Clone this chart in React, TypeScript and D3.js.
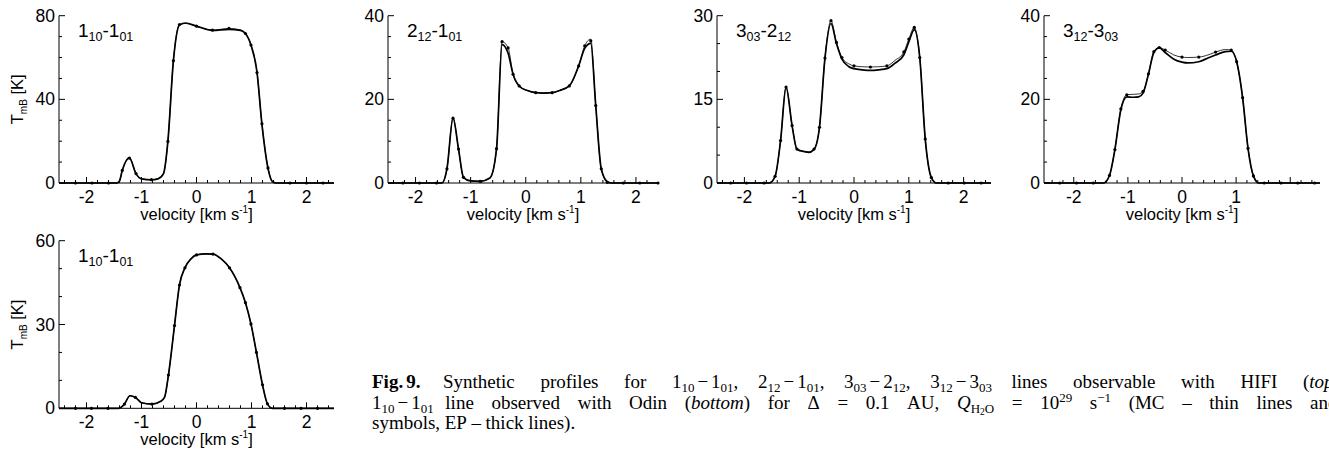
import React, { useLayoutEffect, useRef, useState } from "react";
import * as d3 from "d3";

// velocity [km/s] and T_mB [K].
// xxV: velocity grid of the curves, xxEp: thick line (EP), xxMc: thin line (MC),
// xxDotV / xxDotT: the MC symbols

// top row, HIFI 1_10-1_01
const aV = [-2.5, -1.6, -1.45, -1.4, -1.35, -1.22, -1.1, -1.0, -0.82, -0.7, -0.6, -0.52, -0.42, -0.31, -0.2, 0, 0.29, 0.59, 0.8, 0.89, 0.99, 1.1, 1.19, 1.3, 1.38, 1.45, 1.7, 2.5];
const aEp = [0, 0, 0, 1, 6, 12, 4.5, 2, 1.5, 2, 4.5, 20, 58.5, 75.5, 76.5, 75, 73, 73.5, 73, 71.5, 66, 53, 28, 7, 0.7, 0, 0, 0];
const aMc = [0, 0, 0, 1, 6, 11.9, 4.5, 2, 1.6, 2, 4.5, 19.9, 58.5, 75.8, 76.3, 75, 73.1, 73.9, 73.2, 71.5, 66, 52.8, 28.3, 7.2, 0.7, 0, 0, 0];
const aDotV = [-2.2, -1.9, -1.6, -1.35, -1.22, -1.1, -0.82, -0.52, -0.42, -0.31, 0, 0.29, 0.59, 0.89, 0.99, 1.1, 1.19, 1.3, 1.7, 2.0, 2.3];
const aDotT = [0, 0, 0, 6.0, 11.9, 4.5, 1.6, 19.9, 58.5, 75.8, 75.0, 73.1, 73.9, 71.5, 66, 52.8, 28.3, 7.2, 0, 0, 0];

// 2_12-1_01
const bV = [-2.5, -1.52, -1.43, -1.32, -1.22, -1.13, -1.0, -0.83, -0.65, -0.53, -0.43, -0.32, -0.23, -0.12, 0.03, 0.18, 0.33, 0.48, 0.63, 0.79, 0.96, 1.07, 1.18, 1.27, 1.37, 1.48, 1.55, 2.4];
const bEp = [0, 0, 3.4, 15.5, 8.1, 1.3, 0.5, 0.4, 1.2, 8.2, 33.1, 31.0, 26, 23.2, 22.1, 21.6, 21.5, 21.6, 22.2, 23.2, 28, 32.2, 33.4, 18.5, 3.4, 0.3, 0, 0];
const bMc = [0, 0, 3.4, 15.5, 8.1, 1.3, 0.5, 0.4, 1.2, 8.2, 33.8, 32.3, 26, 23.2, 22.1, 21.6, 21.5, 21.6, 22.2, 23.2, 28, 32.8, 34.4, 18.5, 3.4, 0.3, 0, 0];
const bDotV = [-2.23, -1.93, -1.62, -1.43, -1.32, -1.22, -1.13, -0.83, -0.53, -0.43, -0.32, -0.23, -0.12, 0.18, 0.48, 0.79, 0.96, 1.07, 1.18, 1.27, 1.37, 1.48, 1.77, 2.07, 2.4];
const bDotT = [0, 0, 0, 3.4, 15.5, 8.1, 1.35, 0.4, 8.2, 33.8, 32.3, 26, 23.2, 21.6, 21.6, 23.2, 28, 32.8, 34.0, 18.5, 3.4, 0.15, 0, 0, 0];

// 3_03-2_12
const cV = [-2.5, -1.55, -1.44, -1.34, -1.24, -1.13, -1.04, -0.9, -0.83, -0.73, -0.63, -0.53, -0.42, -0.32, -0.22, -0.1, 0, 0.15, 0.3, 0.45, 0.6, 0.75, 0.91, 1.0, 1.1, 1.2, 1.3, 1.41, 1.5, 2.5];
const cEp = [0, 0, 1.2, 7.6, 17.2, 10.3, 6.0, 5.6, 5.5, 6.0, 10, 22.4, 28.6, 25.0, 22.2, 20.9, 20.5, 20.3, 20.2, 20.3, 20.5, 21.5, 23.0, 25.3, 27.5, 22.5, 7.9, 1.0, 0, 0];
const cMc = [0, 0, 1.2, 7.6, 17.2, 10.3, 6.1, 5.7, 5.6, 6.1, 10, 22.4, 29.1, 25.2, 22.5, 21.4, 21.0, 20.85, 20.8, 20.85, 21.0, 22.0, 23.5, 25.8, 27.9, 22.5, 7.9, 1.0, 0, 0];
const cDotV = [-2.25, -1.96, -1.64, -1.44, -1.34, -1.24, -1.13, -1.04, -0.73, -0.63, -0.53, -0.42, -0.32, -0.22, 0, 0.3, 0.6, 0.91, 1.0, 1.1, 1.2, 1.3, 1.41, 1.72, 2.01, 2.32];
const cDotT = [0, 0, 0, 1.2, 7.6, 17.2, 10.3, 6.1, 6.1, 10, 22.4, 29.1, 25.2, 22.5, 21.0, 20.8, 21.0, 23.5, 25.8, 27.9, 22.5, 7.9, 1.0, 0, 0, 0];

// 3_12-3_03
const dV = [-2.55, -1.45, -1.34, -1.24, -1.13, -1.02, -0.9, -0.8, -0.72, -0.62, -0.52, -0.42, -0.31, -0.15, 0, 0.1, 0.31, 0.5, 0.62, 0.8, 0.91, 1.01, 1.12, 1.22, 1.32, 1.42, 2.55];
const dEp = [0, 0, 1.8, 8, 17.5, 20.6, 20.5, 20.6, 21.5, 26, 31.2, 32.3, 31.2, 29.6, 28.9, 28.7, 29.0, 30.0, 30.6, 31.4, 31.5, 29.0, 20.4, 8.3, 1.7, 0, 0];
const dMc = [0, 0, 1.8, 8, 17.7, 21.1, 21.2, 21.3, 21.9, 26.1, 31.4, 32.4, 31.8, 30.6, 30.1, 30.0, 30.1, 30.7, 31.3, 31.9, 31.8, 29.0, 20.4, 8.3, 1.7, 0, 0];
const dDotV = [-2.26, -1.95, -1.64, -1.34, -1.24, -1.13, -1.02, -0.72, -0.62, -0.52, -0.42, -0.31, 0, 0.31, 0.62, 0.91, 1.01, 1.12, 1.22, 1.32, 1.52, 1.83, 2.14, 2.45];
const dDotT = [0, 0, 0, 1.8, 8, 17.7, 21.1, 21.9, 26.1, 31.4, 32.4, 31.8, 30.1, 30.1, 31.3, 31.8, 29.0, 20.4, 8.3, 1.7, 0, 0, 0, 0];

// bottom row, Odin 1_10-1_01
const eV = [-2.5, -1.42, -1.31, -1.21, -1.11, -1.0, -0.81, -0.65, -0.58, -0.51, -0.4, -0.31, -0.21, -0.1, 0, 0.17, 0.3, 0.45, 0.6, 0.79, 0.89, 0.99, 1.09, 1.2, 1.29, 1.38, 2.5];
const eEp = [0, 0, 1.5, 4.5, 3.9, 2.0, 1.5, 2.5, 4, 11.9, 29.6, 44.1, 50.3, 53.5, 54.9, 55.3, 55.2, 53.5, 50.3, 43.2, 37.8, 30.2, 20, 8.4, 1.6, 0, 0];
const eDotV = [-2.2, -1.91, -1.61, -1.31, -1.11, -0.81, -0.51, -0.4, -0.31, -0.21, 0, 0.3, 0.6, 0.79, 0.89, 0.99, 1.09, 1.2, 1.29, 1.6, 1.9, 2.2];
const eDotT = [0, 0, 0, 1.5, 3.9, 1.5, 11.9, 29.6, 44.1, 50.3, 54.9, 55.2, 50.3, 43.2, 37.8, 30.2, 20, 8.4, 1.6, 0, 0, 0];

// panel titles: level, sub, level, sub
const titles = [
  ["1", "10", "1", "01"],
  ["2", "12", "1", "01"],
  ["3", "03", "2", "12"],
  ["3", "12", "3", "03"],
  ["1", "10", "1", "01"],
];
const yTickSets = [[0, 40, 80], [0, 20, 40], [0, 15, 30], [0, 20, 40], [0, 30, 60]];
const yMinorSteps = [10, 5, 5, 5, 10];
const xLabelSets = [[-2, -1, 0, 1, 2], [-2, -1, 0, 1, 2], [-2, -1, 0, 1, 2], [-2, -1, 0, 1], [-2, -1, 0, 1, 2]];

const SANS = "'Liberation Sans', Arial, Helvetica, sans-serif";
const SERIF = "'Liberation Serif', 'Times New Roman', serif";

type PanelCfg = {
  idx: number;
  xDomain: [number, number];
  xRange: [number, number];
  yRange: [number, number];
  v: number[];
  ep: number[];
  mc: number[];
  dotV: number[];
  dotT: number[];
  yLabel: boolean;
};

const panels: PanelCfg[] = [
  { idx: 0, xDomain: [-2.5, 2.5], xRange: [59, 334], yRange: [183, 15.7], v: aV, ep: aEp, mc: aMc, dotV: aDotV, dotT: aDotT, yLabel: true },
  { idx: 1, xDomain: [-2.5, 2.4], xRange: [388, 658], yRange: [183, 15.7], v: bV, ep: bEp, mc: bMc, dotV: bDotV, dotT: bDotT, yLabel: false },
  { idx: 2, xDomain: [-2.5, 2.5], xRange: [717, 991], yRange: [183, 15.7], v: cV, ep: cEp, mc: cMc, dotV: cDotV, dotT: cDotT, yLabel: false },
  { idx: 3, xDomain: [-2.55, 2.55], xRange: [1044, 1320], yRange: [183, 15.7], v: dV, ep: dEp, mc: dMc, dotV: dDotV, dotT: dDotT, yLabel: false },
  { idx: 4, xDomain: [-2.5, 2.5], xRange: [59, 334], yRange: [408.3, 240.7], v: eV, ep: eEp, mc: eEp, dotV: eDotV, dotT: eDotT, yLabel: true },
];

function Panel({ p }: { p: PanelCfg }) {
  const yTicks = yTickSets[p.idx];
  const yMax = yTicks[yTicks.length - 1];
  const x = d3.scaleLinear().domain(p.xDomain).range(p.xRange);
  const y = d3.scaleLinear().domain([0, yMax]).range(p.yRange);

  const curve = d3
    .line<number>()
    .x((_, i) => x(p.v[i]))
    .y((d) => y(d))
    .curve(d3.curveMonotoneX);

  const majorX = d3.range(-2, 3).filter((v) => v >= p.xDomain[0] && v <= p.xDomain[1]);
  const minorX = d3
    .range(-13, 14)
    .map((i) => i * 0.2)
    .filter((v) => v > p.xDomain[0] && v < p.xDomain[1] && Math.abs(v - Math.round(v)) > 0.05);
  const minorY = d3.range(0, yMax + 0.01, yMinorSteps[p.idx]).filter((v) => !yTicks.includes(v));

  const [x0, x1] = p.xRange;
  const [yb, yt] = p.yRange;
  const t = titles[p.idx];

  return (
    <g fontFamily={SANS} fill="#000">
      <line x1={x0} x2={x1} y1={yb} y2={yb} stroke="#000" strokeWidth={1} />
      <line x1={x0} x2={x0} y1={yb} y2={yt} stroke="#000" strokeWidth={1} />
      {majorX.map((v) => (
        <line key={"mx" + v} x1={x(v)} x2={x(v)} y1={yb} y2={yb - 6} stroke="#000" />
      ))}
      {minorX.map((v) => (
        <line key={"nx" + v} x1={x(v)} x2={x(v)} y1={yb} y2={yb - 3} stroke="#000" />
      ))}
      {yTicks.map((v) => (
        <line key={"my" + v} x1={x0} x2={x0 + 6} y1={y(v)} y2={y(v)} stroke="#000" />
      ))}
      {minorY.map((v) => (
        <line key={"ny" + v} x1={x0} x2={x0 + 3} y1={y(v)} y2={y(v)} stroke="#000" />
      ))}
      {xLabelSets[p.idx].map((v) => (
        <text key={"lx" + v} x={x(v)} y={yb + 20} fontSize={17.5} textAnchor="middle">
          {v < 0 ? "-" + Math.abs(v) : v}
        </text>
      ))}
      {yTicks.map((v) => (
        <text key={"ly" + v} x={x0 - 4} y={y(v) + 6} fontSize={17.5} textAnchor="end">
          {v}
        </text>
      ))}
      <text x={(x0 + x1) / 2} y={yb + 37} fontSize={16.5} textAnchor="middle">
        velocity [km s<tspan fontSize={10} dy={-7}>-1</tspan>
        <tspan dy={7}>]</tspan>
      </text>
      {p.yLabel && (
        <text transform={`translate(${x0 - 36},${(yb + yt) / 2}) rotate(-90)`} fontSize={16.5} textAnchor="middle">
          T<tspan fontSize={10} dy={4}>mB</tspan>
          <tspan dy={-4}> [K]</tspan>
        </text>
      )}
      <text x={x0 + 19} y={yt + 21} fontSize={19}>
        {t[0]}
        <tspan fontSize={12.5} dy={4}>{t[1]}</tspan>
        <tspan dy={-4}>-{t[2]}</tspan>
        <tspan fontSize={12.5} dy={4}>{t[3]}</tspan>
      </text>
      {/* EP thick, MC thin with symbols */}
      <path d={curve(p.ep) || ""} fill="none" stroke="#000" strokeWidth={1.7} />
      <path d={curve(p.mc) || ""} fill="none" stroke="#000" strokeWidth={0.8} />
      {p.dotV.map((v, i) => (
        <circle key={i} cx={x(v)} cy={y(p.dotT[i])} r={1.6} fill="#000" />
      ))}
    </g>
  );
}

// transition in the caption, TeX-like spacing round the minus
function Tr({ a, sa, b, sb, tail = "" }: { a: string; sa: string; b: string; sb: string; tail?: string }) {
  return (
    <>
      {a}
      <tspan fontSize={13} dy={3.5}>{sa}</tspan>
      <tspan dy={-3.5} dx={3}>−</tspan>
      <tspan dx={3}>{b}</tspan>
      <tspan fontSize={13} dy={3.5}>{sb}</tspan>
      <tspan dy={-3.5}>{tail}</tspan>
    </>
  );
}

function JustLine({ tokens, y, x0, anchor, anchorX }: { tokens: React.ReactNode[]; y: number; x0: number; anchor?: number; anchorX?: number }) {
  const refs = useRef<(SVGTextElement | null)[]>([]);
  const [xs, setXs] = useState<number[] | null>(null);
  useLayoutEffect(() => {
    const w = refs.current.map((el) => (el ? el.getComputedTextLength() : 0));
    let gap = 4.6;
    if (anchor != null && anchorX != null) gap = (anchorX - x0 - d3.sum(w.slice(0, anchor))) / anchor;
    const out: number[] = [];
    let cx = x0;
    w.forEach((wi) => {
      out.push(cx);
      cx += wi + gap;
    });
    setXs(out);
  }, []);
  return (
    <g>
      {tokens.map((tk, i) => (
        <text key={i} ref={(el) => { refs.current[i] = el; }} x={xs ? xs[i] : x0} y={y}>
          {tk}
        </text>
      ))}
    </g>
  );
}

const line1: React.ReactNode[] = [
  <tspan fontWeight="bold">Fig.<tspan dx={3}>9.</tspan></tspan>,
  "Synthetic",
  "profiles",
  "for",
  <Tr a="1" sa="10" b="1" sb="01" tail="," />,
  <Tr a="2" sa="12" b="1" sb="01" tail="," />,
  <Tr a="3" sa="03" b="2" sb="12" tail="," />,
  <Tr a="3" sa="12" b="3" sb="03" />,
  "lines",
  "observable",
  "with",
  "HIFI",
  <>(<tspan fontStyle="italic">top</tspan>)</>,
  "and",
];
const line2: React.ReactNode[] = [
  <Tr a="1" sa="10" b="1" sb="01" />,
  "line",
  "observed",
  "with",
  "Odin",
  <>(<tspan fontStyle="italic">bottom</tspan>)</>,
  "for",
  "Δ",
  "=",
  "0.1",
  "AU,",
  <>
    <tspan fontStyle="italic">Q</tspan>
    <tspan fontSize={13} dy={3.5}>H</tspan>
    <tspan fontSize={9.5} dy={2}>2</tspan>
    <tspan fontSize={13} dy={-2}>O</tspan>
  </>,
  "=",
  <>10<tspan fontSize={13} dy={-7}>29</tspan></>,
  <>s<tspan fontSize={13} dy={-7}>−1</tspan></>,
  "(MC",
  "–",
  "thin",
  "lines",
  "and",
];
const line3: React.ReactNode[] = ["symbols,", "EP", "–", "thick", "lines)."];

function Caption() {
  return (
    <g fontFamily={SERIF} fontSize={19} fill="#000">
      <JustLine tokens={line1} y={388} x0={372} anchor={12} anchorX={1303} />
      <JustLine tokens={line2} y={409} x0={372} anchor={19} anchorX={1310} />
      <JustLine tokens={line3} y={429} x0={372} />
    </g>
  );
}

export default function App() {
  return (
    <div style={{ position: "absolute", left: 0, top: 0 }}>
      <svg width={1329} height={453} style={{ display: "block", background: "#fff" }}>
        {panels.map((p) => (
          <Panel key={p.idx} p={p} />
        ))}
        <Caption />
      </svg>
    </div>
  );
}
